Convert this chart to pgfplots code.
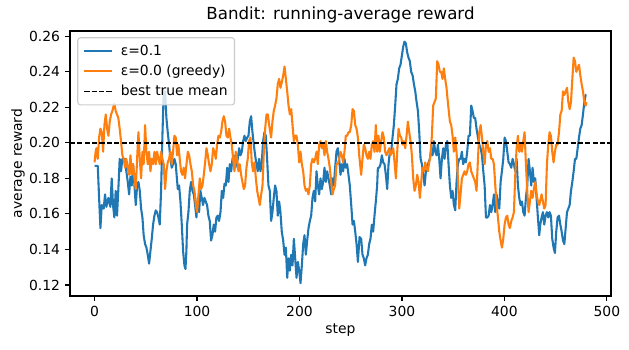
\documentclass[border=0pt]{standalone}
\usepackage{fontspec}
\setmainfont{DejaVu Sans}
\usepackage{pgfplots}
\pgfplotsset{compat=1.18}
\usepackage{pgfplotstable}
\definecolor{mblue}{HTML}{1F77B4}
\definecolor{morange}{HTML}{FF7F0E}
\definecolor{lgframe}{HTML}{CCCCCC}

\pgfplotstableread{
x y
0 0.187
1.1 0.187
3.1 0.187
4.4 0.169
5.7 0.152
7.0 0.165
8.9 0.163
10.2 0.171
11.5 0.164
13.5 0.169
15.4 0.164
16.7 0.180
18.0 0.165
19.3 0.158
20.6 0.173
21.9 0.159
23.2 0.174
24.5 0.191
25.8 0.184
27.1 0.191
28.4 0.190
29.7 0.191
31.0 0.184
32.4 0.178
33.7 0.171
35.0 0.181
36.3 0.176
37.6 0.188
38.9 0.176
40.2 0.165
41.5 0.176
42.8 0.178
44.1 0.173
45.4 0.163
46.7 0.158
47.9 0.148
49.3 0.143
50.6 0.141
51.9 0.137
53.2 0.132
54.5 0.139
55.8 0.146
57.1 0.154
58.4 0.159
59.7 0.162
61.0 0.161
62.3 0.158
63.6 0.154
64.9 0.173
66.2 0.204
67.5 0.229
68.8 0.229
70.1 0.214
71.4 0.206
72.7 0.199
74.0 0.191
75.3 0.186
76.6 0.188
77.9 0.191
79.2 0.188
81.2 0.174
82.5 0.176
83.8 0.167
85.1 0.154
86.4 0.139
87.7 0.131
88.7 0.129
89.6 0.139
90.3 0.154
91.6 0.161
92.9 0.173
94.2 0.178
95.5 0.173
96.8 0.171
98.1 0.165
99.4 0.158
100.7 0.169
102.0 0.161
103.3 0.173
104.6 0.169
105.9 0.165
107.2 0.169
108.5 0.167
109.8 0.165
111.1 0.159
112.4 0.156
113.7 0.145
115.0 0.148
116.3 0.154
117.6 0.150
118.9 0.158
120.2 0.159
121.5 0.156
122.9 0.161
124.2 0.173
125.5 0.169
126.8 0.177
128.1 0.176
129.4 0.186
130.7 0.178
132.0 0.188
133.3 0.184
134.6 0.191
135.9 0.193
137.2 0.186
138.5 0.188
139.8 0.191
141.1 0.197
142.4 0.193
143.7 0.195
145.0 0.201
146.3 0.204
147.6 0.201
148.9 0.203
150.2 0.204
151.5 0.212
152.8 0.215
154.1 0.206
155.4 0.199
156.7 0.193
158.0 0.188
159.3 0.184
160.6 0.191
161.9 0.184
163.2 0.189
164.5 0.201
165.8 0.206
167.1 0.204
168.4 0.191
169.7 0.176
171.0 0.173
172.3 0.156
173.6 0.161
174.9 0.169
176.2 0.176
177.5 0.173
178.8 0.159
180.1 0.167
181.4 0.161
182.7 0.150
184.1 0.145
185.4 0.137
186.7 0.141
188.0 0.124
189.3 0.135
190.6 0.128
191.9 0.137
193.2 0.131
194.5 0.146
195.8 0.135
197.1 0.124
198.4 0.133
199.7 0.128
201.0 0.121
202.3 0.131
203.6 0.143
204.9 0.148
206.2 0.137
207.5 0.145
208.8 0.152
210.1 0.156
211.4 0.159
212.7 0.169
214.0 0.173
215.3 0.167
216.6 0.184
217.9 0.176
219.2 0.171
220.5 0.180
221.8 0.174
223.1 0.178
224.4 0.186
225.7 0.178
227.0 0.184
228.3 0.180
229.6 0.176
230.9 0.171
232.2 0.180
233.5 0.176
234.8 0.186
236.1 0.195
237.4 0.197
238.7 0.191
240.0 0.182
241.3 0.188
242.6 0.184
243.9 0.191
245.2 0.186
246.5 0.188
247.8 0.182
249.1 0.176
250.5 0.165
251.8 0.154
253.1 0.156
254.4 0.150
255.7 0.143
257.0 0.133
258.6 0.147
260.2 0.146
261.5 0.137
262.8 0.135
264.1 0.131
265.4 0.135
266.7 0.137
268.0 0.143
269.3 0.146
270.6 0.154
271.9 0.150
273.2 0.159
274.5 0.167
275.8 0.176
276.5 0.186
277.8 0.186
279.1 0.188
280.4 0.193
281.7 0.189
283.0 0.188
284.3 0.182
285.6 0.174
286.9 0.188
288.2 0.195
289.5 0.195
290.8 0.203
292.1 0.210
293.4 0.221
294.7 0.233
296.0 0.236
297.3 0.242
298.6 0.244
299.9 0.249
301.2 0.254
302.5 0.257
303.8 0.256
305.1 0.251
306.4 0.248
307.7 0.246
309.0 0.240
310.4 0.238
311.7 0.233
313.0 0.229
314.3 0.223
315.6 0.218
316.9 0.206
318.2 0.191
319.5 0.188
320.8 0.182
322.1 0.176
323.4 0.184
324.7 0.186
326.0 0.189
327.3 0.191
328.6 0.197
329.9 0.193
331.2 0.201
332.5 0.195
333.8 0.193
335.1 0.199
336.4 0.191
337.7 0.180
339.0 0.191
340.3 0.197
341.6 0.191
342.9 0.199
344.2 0.201
345.5 0.188
346.8 0.176
348.1 0.169
349.4 0.173
350.7 0.165
352.0 0.162
353.3 0.178
354.6 0.188
355.9 0.191
357.2 0.191
358.5 0.195
359.8 0.188
361.1 0.191
362.4 0.189
363.7 0.195
365.0 0.204
366.3 0.204
367.6 0.221
368.9 0.218
370.2 0.214
371.5 0.214
372.8 0.208
374.2 0.203
375.5 0.199
376.8 0.197
378.1 0.193
379.4 0.184
380.7 0.176
382.0 0.158
383.3 0.158
384.6 0.159
385.9 0.165
387.2 0.161
388.5 0.165
389.8 0.171
391.1 0.161
392.4 0.171
393.7 0.165
395.0 0.163
396.3 0.178
397.6 0.184
398.9 0.191
400.2 0.203
401.5 0.201
402.8 0.195
404.1 0.189
405.4 0.188
406.7 0.186
408.0 0.191
409.3 0.188
410.6 0.184
411.9 0.191
413.2 0.176
414.5 0.169
415.8 0.165
417.1 0.167
418.4 0.161
419.7 0.159
421.0 0.169
422.3 0.176
423.6 0.191
424.9 0.184
426.2 0.176
427.5 0.186
428.8 0.178
430.1 0.180
431.4 0.169
432.7 0.158
434.0 0.148
435.0 0.154
436.3 0.158
437.6 0.161
438.9 0.154
440.2 0.159
441.5 0.161
442.8 0.158
444.1 0.161
445.4 0.159
446.7 0.146
448.0 0.141
449.3 0.138
450.6 0.150
451.9 0.158
453.3 0.159
454.6 0.154
455.9 0.150
457.2 0.145
458.5 0.143
459.8 0.152
461.1 0.161
462.4 0.163
463.7 0.165
465.0 0.173
466.3 0.178
467.6 0.184
468.9 0.191
470.2 0.191
471.5 0.197
472.8 0.203
474.1 0.208
475.4 0.210
476.7 0.216
478.0 0.223
479.3 0.227
480.0 0.227
}\epsone

\pgfplotstableread{
x y
0 0.189
1.0 0.195
1.8 0.197
3.1 0.191
4.4 0.203
5.7 0.208
7.0 0.206
8.3 0.195
9.6 0.210
10.9 0.216
12.2 0.208
13.5 0.204
14.8 0.212
16.1 0.216
17.4 0.218
18.7 0.221
19.3 0.222
20.6 0.218
21.9 0.216
23.2 0.214
24.5 0.208
25.8 0.201
27.1 0.193
28.4 0.191
29.7 0.186
31.0 0.191
32.4 0.186
33.7 0.182
35.0 0.193
36.3 0.182
37.6 0.188
38.9 0.180
40.2 0.174
41.5 0.191
42.8 0.206
44.1 0.191
45.4 0.180
46.7 0.195
47.9 0.188
49.3 0.210
50.6 0.195
51.9 0.188
53.2 0.195
54.5 0.184
55.8 0.191
57.1 0.188
58.4 0.195
59.7 0.188
61.0 0.195
62.3 0.191
63.6 0.188
64.9 0.195
66.2 0.191
67.5 0.188
68.8 0.174
70.1 0.184
71.4 0.189
72.7 0.191
74.0 0.195
75.3 0.188
76.6 0.195
77.9 0.204
79.2 0.203
80.5 0.193
81.8 0.199
83.1 0.191
84.4 0.184
85.7 0.182
87.0 0.186
88.3 0.180
89.7 0.188
91.0 0.195
92.3 0.193
93.6 0.188
94.9 0.184
96.2 0.176
97.5 0.173
98.8 0.165
100.1 0.161
101.4 0.171
102.7 0.180
104.0 0.174
105.3 0.176
106.6 0.182
107.9 0.189
109.2 0.197
110.5 0.193
111.8 0.188
113.1 0.184
114.4 0.188
115.7 0.197
117.0 0.195
118.3 0.191
119.6 0.199
120.9 0.204
122.2 0.203
123.5 0.206
124.8 0.212
126.1 0.215
127.4 0.212
128.7 0.204
130.0 0.203
131.3 0.208
132.6 0.203
133.9 0.199
135.2 0.191
136.5 0.184
137.8 0.195
139.1 0.191
140.4 0.184
141.7 0.188
143.0 0.182
144.3 0.178
145.6 0.174
146.9 0.176
148.2 0.186
149.5 0.191
150.8 0.201
152.1 0.203
153.4 0.189
154.7 0.184
156.1 0.189
157.4 0.180
158.7 0.173
160.0 0.169
161.3 0.165
162.6 0.171
163.9 0.176
165.2 0.195
166.5 0.208
167.8 0.216
169.1 0.216
170.4 0.210
172.3 0.203
173.6 0.212
174.9 0.218
176.2 0.221
177.5 0.225
178.8 0.233
180.1 0.236
181.4 0.231
182.7 0.234
184.1 0.238
185.4 0.243
186.7 0.236
188.0 0.229
189.3 0.221
190.6 0.216
191.9 0.219
193.2 0.210
194.5 0.201
195.8 0.204
197.1 0.204
198.4 0.199
199.7 0.189
201.0 0.195
202.3 0.188
203.6 0.184
204.9 0.176
206.2 0.173
207.5 0.174
208.8 0.171
210.1 0.176
211.4 0.188
212.7 0.191
214.0 0.189
215.3 0.191
216.6 0.195
217.9 0.188
219.2 0.199
220.5 0.201
221.8 0.197
223.1 0.199
224.4 0.193
225.7 0.201
227.0 0.195
228.3 0.191
229.6 0.186
230.9 0.178
232.2 0.171
233.5 0.174
234.8 0.176
236.1 0.188
237.4 0.188
238.7 0.191
240.0 0.195
241.3 0.193
242.6 0.189
243.9 0.195
245.2 0.204
246.5 0.204
247.8 0.206
249.1 0.206
250.5 0.210
251.8 0.219
253.1 0.218
254.4 0.210
255.7 0.208
257.0 0.203
258.3 0.193
260.2 0.182
261.5 0.191
262.8 0.199
264.1 0.197
265.4 0.193
266.7 0.191
268.0 0.195
269.3 0.191
270.6 0.199
271.9 0.201
273.2 0.195
274.5 0.210
275.8 0.195
277.1 0.204
278.4 0.195
279.7 0.201
281.0 0.206
282.3 0.203
283.6 0.195
284.9 0.193
286.3 0.195
287.6 0.197
288.9 0.193
290.2 0.195
291.5 0.197
292.8 0.189
294.1 0.180
295.4 0.195
296.7 0.208
298.0 0.204
299.3 0.203
300.6 0.199
301.9 0.201
303.2 0.197
304.5 0.204
305.8 0.212
307.1 0.206
308.4 0.201
309.7 0.193
311.0 0.180
312.3 0.173
313.6 0.176
314.9 0.182
316.2 0.178
317.5 0.169
318.8 0.178
320.1 0.186
321.4 0.184
322.7 0.189
324.0 0.186
325.3 0.184
326.6 0.189
327.9 0.193
329.2 0.204
330.5 0.221
331.8 0.223
333.1 0.225
334.4 0.246
335.7 0.244
337.0 0.240
338.3 0.240
339.6 0.236
340.9 0.242
342.2 0.236
343.5 0.231
344.8 0.223
346.8 0.212
348.1 0.210
349.4 0.204
350.7 0.195
352.0 0.203
353.3 0.195
354.6 0.180
355.9 0.163
357.2 0.171
358.5 0.180
359.8 0.182
361.1 0.184
362.4 0.182
363.7 0.184
365.0 0.188
366.3 0.189
367.6 0.184
368.9 0.182
370.2 0.180
371.5 0.178
372.8 0.173
374.2 0.191
375.5 0.206
376.8 0.210
378.1 0.203
379.4 0.195
380.7 0.188
382.0 0.199
383.3 0.201
384.6 0.195
385.9 0.197
387.2 0.191
388.5 0.191
389.8 0.188
391.1 0.176
392.4 0.165
393.7 0.158
395.0 0.150
396.3 0.145
397.6 0.141
398.9 0.146
400.2 0.154
401.5 0.158
402.8 0.159
404.1 0.154
405.4 0.152
406.7 0.156
408.0 0.158
409.3 0.161
410.6 0.182
411.9 0.197
413.2 0.204
414.5 0.195
415.8 0.199
417.1 0.195
418.4 0.201
419.7 0.206
421.0 0.188
422.3 0.173
423.6 0.161
424.9 0.167
426.2 0.173
427.5 0.169
428.8 0.174
430.1 0.178
431.4 0.171
432.7 0.167
434.0 0.165
436.3 0.171
437.6 0.167
438.9 0.163
440.2 0.165
441.5 0.188
442.8 0.199
444.1 0.206
445.4 0.204
446.7 0.195
448.0 0.189
449.3 0.195
450.6 0.199
451.9 0.199
453.3 0.206
454.6 0.216
455.9 0.218
457.2 0.229
458.5 0.227
459.8 0.229
461.1 0.231
462.4 0.223
463.7 0.219
465.0 0.223
466.3 0.236
467.6 0.248
468.9 0.246
470.2 0.240
471.5 0.242
472.8 0.244
474.1 0.238
475.4 0.233
476.7 0.229
478.0 0.223
479.3 0.221
480.0 0.223
}\epszero

\pgfplotstableread{
x y
-24 0.2
504 0.2
}\besttrue

\begin{document}
\begin{tikzpicture}
\begin{axis}[
  at={(0pt,0pt)}, anchor=south west,
  scale only axis, width=389.5pt, height=190.8pt,
  xmin=-24, xmax=504, ymin=0.1138, ymax=0.2630,
  xtick={0,100,200,300,400,500},
  ytick={0.12,0.14,0.16,0.18,0.20,0.22,0.24,0.26},
  scaled y ticks=false,
  /pgf/number format/assume math mode=true,
  tick align=outside, major tick length=3.5pt,
  xtick pos=left, ytick pos=left,
  tick style={black, line width=0.8pt},
  axis line style={line width=0.8pt},
  ticklabel style={font=\fontsize{10}{12}\selectfont, inner sep=0pt},
  xticklabel style={yshift=-3.5pt},
  yticklabel style={xshift=-3.5pt, /pgf/number format/.cd, fixed, fixed zerofill, precision=2},
  title={Bandit: running-average reward},
  every axis title shift=0pt,
  title style={font=\fontsize{12}{14}\selectfont, at={(axis description cs:0.5,1.06)}, anchor=center},
  xlabel={step}, ylabel={average reward},
  xlabel style={font=\fontsize{10}{12}\selectfont, at={(axis description cs:0.5,-0.128)}, anchor=center},
  ylabel style={font=\fontsize{10}{12}\selectfont, at={(axis description cs:-0.096,0.5)}, anchor=center},
  legend cell align=left,
  legend style={at={(axis description cs:0,1)}, anchor=north west, xshift=5.2pt, yshift=-4.5pt,
    draw=lgframe, line width=0.8pt, rounded corners=2pt, fill=white, fill opacity=0.8, text opacity=1,
    font=\fontsize{10}{12}\selectfont, inner xsep=4pt, inner ysep=4pt, row sep=3.6pt, column sep=4.5pt,
    nodes={inner sep=1pt}},
  legend image code/.code={\draw[#1] (0pt,0pt) -- (20pt,0pt);},
]
\addplot[mblue, line width=1.5pt, line join=round] table[x=x,y=y] {\epsone};
\addlegendentry{ε=0.1}
\addplot[morange, line width=1.5pt, line join=round] table[x=x,y=y] {\epszero};
\addlegendentry{ε=0.0 (greedy)}
\addplot[black, line width=1pt, dash pattern=on 3.7pt off 1.6pt] table[x=x,y=y] {\besttrue};
\addlegendentry{best true mean}
\end{axis}
\pgfresetboundingbox
\path (-50.4pt,-38.9pt) rectangle (402.5pt,213.1pt);
\end{tikzpicture}
\end{document}
